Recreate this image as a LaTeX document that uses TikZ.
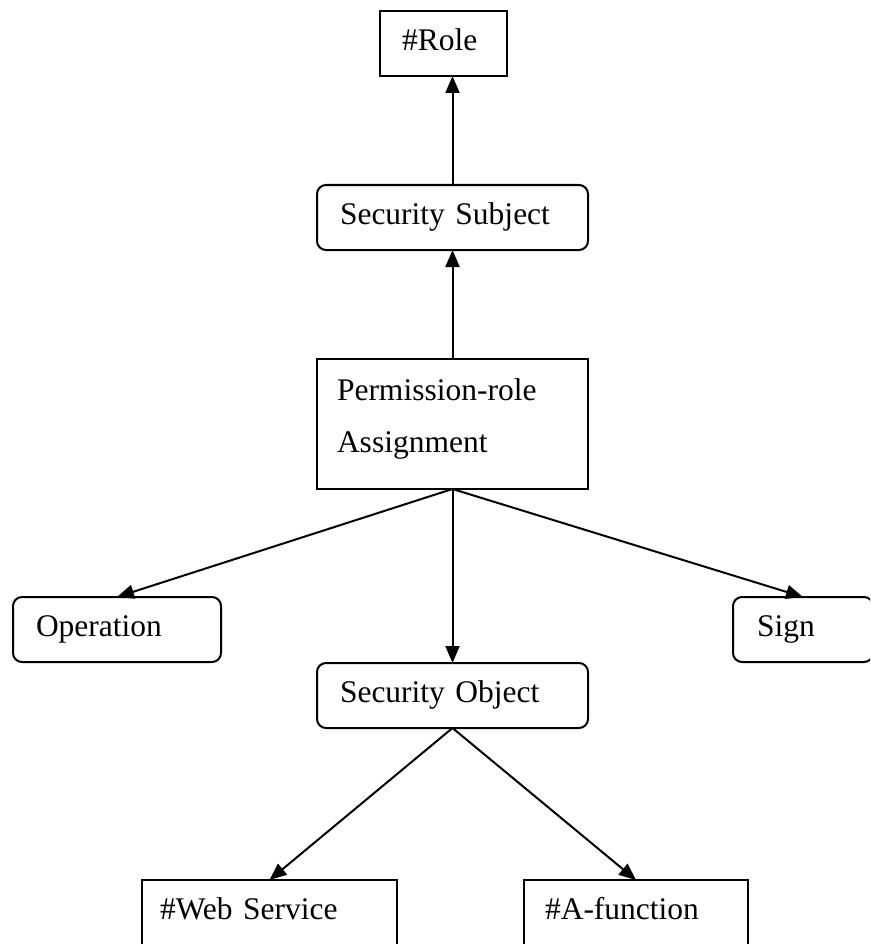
\documentclass[tikz,border=0pt]{standalone}
\usepackage{fontspec}
\setmainfont{Liberation Serif}
\usetikzlibrary{arrows.meta}
\begin{document}
\begin{tikzpicture}[x=1pt,y=-1pt,
  basebox/.style={draw, rectangle, line width=2pt, inner ysep=0pt, outer sep=0pt,
    align=left, font=\fontsize{31.5}{52}\selectfont},
  onebox/.style={basebox, minimum height=65pt, text height=21.5pt, text depth=6.8pt},
  sharpbox/.style={onebox},
  roundbox/.style={onebox, rounded corners=9pt},
  link/.style={line width=2pt, -{Triangle[length=17pt,width=14pt]}}
]
\useasboundingbox (0,0) rectangle (870,944);
\clip (0,0) rectangle (870,944);

% boxes
\node[sharpbox, inner xsep=22pt, text width=83pt]  (role) at (443.5,43.5)  {\#Role};
\node[roundbox, inner xsep=23pt, text width=225pt] (subj) at (452.5,217.5) {Security Subject};
\node[basebox,  inner xsep=20pt, text width=231pt, minimum height=130pt]
  (perm) at (452.5,424) {Permission-role\\Assignment\rule[-17pt]{0pt}{1pt}};
\node[roundbox, inner xsep=23pt, text width=162pt] (oper) at (117,629.5)   {Operation};
\node[roundbox, inner xsep=24pt, text width=92pt]  (sign) at (803,629.5)   {Sign};
\node[roundbox, inner xsep=23pt, text width=225pt] (obj)  at (452.5,695.5) {Security Object};
\node[sharpbox, inner xsep=18pt, text width=219pt] (web)  at (269.5,912.5) {\#Web Service};
\node[sharpbox, inner xsep=21pt, text width=182pt] (afun) at (636,912.5)   {\#A-function};

% connectors
\draw[link] (subj.north) -- (subj.north |- role.south);
\draw[link] (perm.north) -- (subj.south);
\draw[link] (perm.south) -- (oper.north);
\draw[link] (perm.south) -- (sign.north);
\draw[link] (perm.south) -- (obj.north);
\draw[link] (obj.south) -- (web.north);
\draw[link] (obj.south) -- (afun.north);
\end{tikzpicture}
\end{document}
